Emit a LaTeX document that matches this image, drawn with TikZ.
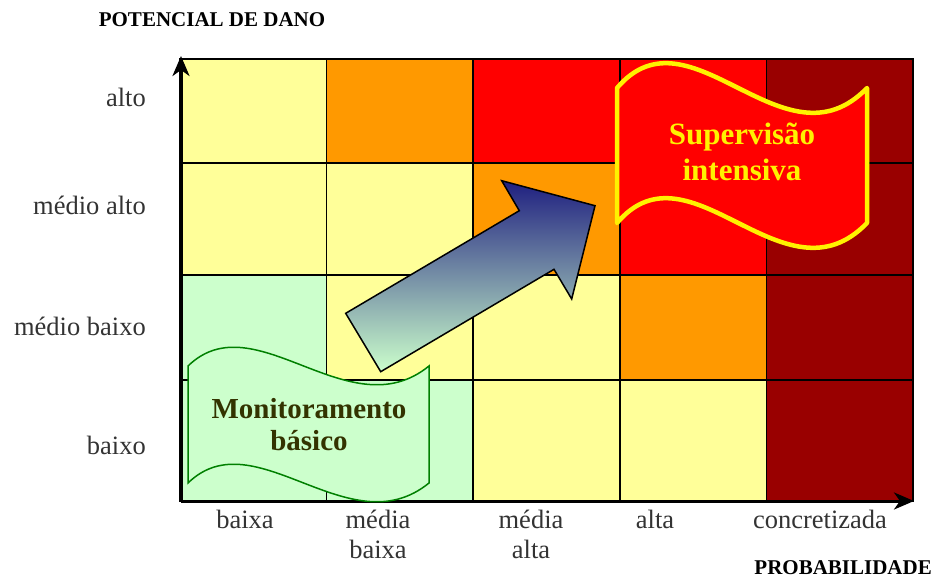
\documentclass[tikz,border=0pt]{standalone}
\usepackage{fontspec}
\setmainfont{Liberation Serif}
\usetikzlibrary{arrows.meta}
\definecolor{cellyellow}{HTML}{FFFF99}
\definecolor{cellorange}{HTML}{FF9900}
\definecolor{cellred}{HTML}{FF0000}
\definecolor{celldark}{HTML}{990000}
\definecolor{cellgreen}{HTML}{CCFFCC}
\definecolor{bannergreen}{HTML}{008000}
\definecolor{bannertext}{HTML}{333300}
\definecolor{labelgray}{HTML}{333333}
\definecolor{arrownavy}{HTML}{1F1F80}
\tikzset{
	axlabel/.style={text=labelgray,font=\fontsize{26.5}{30}\selectfont,inner sep=0pt},
	axtitle/.style={font=\fontsize{21}{24}\selectfont\bfseries,inner sep=0pt},
	axline/.style={draw=black,line width=3pt,-{Stealth[length=20pt,width=17pt,inset=6pt]}},
	cell/.style={draw=black,line width=1.5pt}
}
\begin{document}
\begin{tikzpicture}[x=1pt,y=-1pt]
	\useasboundingbox (0,0) rectangle (934,580);
	% cells, row by row
	\foreach \ytop/\ybot/\ca/\cb/\cc/\cd/\ce in {
			59/163/cellyellow/cellorange/cellred/cellred/celldark,
			163/275/cellyellow/cellyellow/cellorange/cellred/celldark,
			275/380/cellgreen/cellyellow/cellyellow/cellorange/celldark,
			380/501/cellgreen/cellgreen/cellyellow/cellyellow/celldark}
	{
		\foreach \c/\clr in {0/\ca,1/\cb,2/\cc,3/\cd,4/\ce}
		\path[cell,fill=\clr] ({180+146.6*\c},\ytop) rectangle ({180+146.6*(\c+1)},\ybot);
	}
	% axes
	\coordinate (origin) at (181,501);
	\coordinate (ytop) at (181,56);
	\coordinate (xend) at (914,501);
	\path[axline] (origin)--(ytop);
	\path[axline] (origin)--(xend);
	\node[axtitle] (ytitle) at (212,20) {POTENCIAL DE DANO};
	\node[axtitle,anchor=east] (xtitle) at (932,568) {PROBABILIDADE};
	% row labels
	\node[axlabel,anchor=east] (alto) at (146,97) {alto};
	\node[axlabel,anchor=east] (medioalto) at (146,205) {médio alto};
	\node[axlabel,anchor=east] (mediobaixo) at (146,326) {médio baixo};
	\node[axlabel,anchor=east] (baixo) at (146,445) {baixo};
	% column labels
	\node[axlabel,anchor=north] (baixa) at (245,510) {baixa};
	\node[axlabel,anchor=north,align=center] (mediabaixa) at (378,510) {média\\baixa};
	\node[axlabel,anchor=north,align=center] (mediaalta) at (531,510) {média\\alta};
	\node[axlabel,anchor=north] (alta) at (655,510) {alta};
	\node[axlabel,anchor=north] (concretizada) at (820,510) {concretizada};
	% block arrow
	\shadedraw[top color=arrownavy,bottom color=cellgreen,draw=black,line width=1.5pt,line join=miter]
		(345.7,313.3)--(519.3,210.7)--(501.7,180.7)--(595,205.7)--(571.7,299)--(554,269.3)--(380.7,371.7)--cycle;
	% banners
	\path[fill=cellgreen,draw=bannergreen,line width=1.5pt]
		(188,366) .. controls (255,301) and (349,431) .. (429,366) -- (429,483)
		.. controls (349,548) and (255,418) .. (188,483) -- cycle;
	\node[align=center,text=bannertext,font=\fontsize{29}{32}\selectfont\bfseries] (monit) at (309,425) {Monitoramento\\básico};
	\path[fill=cellred,draw=yellow,line width=4.5pt,line join=round]
		(617,88) .. controls (690,2) and (784,174) .. (867,88) -- (867,223)
		.. controls (784,309) and (690,137) .. (617,223) -- cycle;
	\node[align=center,text=yellow,font=\fontsize{31}{36}\selectfont\bfseries] (superv) at (742,152) {Supervisão\\intensiva};
\end{tikzpicture}
\end{document}
